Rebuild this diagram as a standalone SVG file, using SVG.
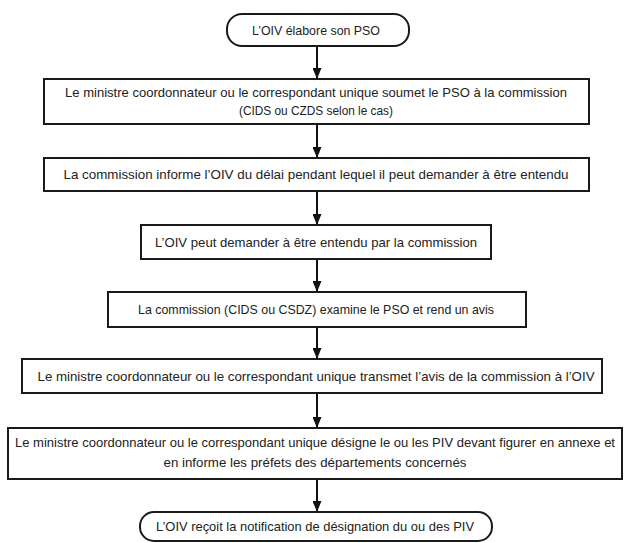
<svg xmlns="http://www.w3.org/2000/svg" width="624" height="543" viewBox="0 0 624 543">
<defs>
<marker id="arr" markerWidth="12" markerHeight="9" refX="11" refY="4.5" orient="auto" markerUnits="userSpaceOnUse">
<path d="M0,0 L11,4.5 L0,9 z" fill="#111"/>
</marker>
<style>
.box{fill:#fff;stroke:#1a1a1a;stroke-width:2}
.t{font-family:"Liberation Sans",Arial,sans-serif;font-size:12.8px;fill:#222;text-anchor:middle}
.c{stroke:#111;stroke-width:2;fill:none}
</style>
</defs>
<rect width="624" height="543" fill="#fff"/>
<g id="connectors">
<line class="c" x1="317" y1="46" x2="317" y2="79" marker-end="url(#arr)"/>
<line class="c" x1="317" y1="124" x2="317" y2="158" marker-end="url(#arr)"/>
<line class="c" x1="317" y1="191" x2="317" y2="225" marker-end="url(#arr)"/>
<line class="c" x1="317" y1="259" x2="317" y2="292" marker-end="url(#arr)"/>
<line class="c" x1="317" y1="327" x2="317" y2="359" marker-end="url(#arr)"/>
<line class="c" x1="317" y1="393" x2="317" y2="428" marker-end="url(#arr)"/>
<line class="c" x1="317" y1="479" x2="317" y2="512" marker-end="url(#arr)"/>
</g>
<g id="n1">
<rect class="box" x="227" y="14" width="182" height="32" rx="15"/>
<text class="t" x="316" y="35" textLength="128" lengthAdjust="spacingAndGlyphs">L’OIV élabore son PSO</text>
</g>
<g id="n2">
<rect class="box" x="44" y="79" width="545" height="45"/>
<text class="t" x="316" y="97" textLength="502" lengthAdjust="spacingAndGlyphs">Le ministre coordonnateur ou le correspondant unique soumet le PSO à la commission</text>
<text class="t" x="316" y="115" textLength="154" lengthAdjust="spacingAndGlyphs">(CIDS ou CZDS selon le cas)</text>
</g>
<g id="n3">
<rect class="box" x="44" y="158" width="545" height="33"/>
<text class="t" x="316" y="179" textLength="505" lengthAdjust="spacingAndGlyphs">La commission informe l’OIV  du délai pendant lequel il peut demander à être entendu</text>
</g>
<g id="n4">
<rect class="box" x="141" y="225" width="350" height="34"/>
<text class="t" x="316" y="247" textLength="322" lengthAdjust="spacingAndGlyphs">L’OIV peut demander à être entendu par la commission</text>
</g>
<g id="n5">
<rect class="box" x="108" y="292" width="418" height="35"/>
<text class="t" x="316" y="314" textLength="356" lengthAdjust="spacingAndGlyphs">La commission (CIDS ou CSDZ) examine le PSO et rend un avis</text>
</g>
<g id="n6">
<rect class="box" x="22" y="359" width="580" height="34"/>
<text class="t" x="316" y="381" textLength="557" lengthAdjust="spacingAndGlyphs">Le ministre coordonnateur ou le correspondant unique  transmet l’avis de la commission à l’OIV</text>
</g>
<g id="n7">
<rect class="box" x="8" y="428" width="614" height="51"/>
<text class="t" x="315" y="447" textLength="600" lengthAdjust="spacingAndGlyphs">Le ministre coordonnateur ou le correspondant unique désigne le ou les PIV devant figurer en annexe et</text>
<text class="t" x="315" y="467" textLength="303" lengthAdjust="spacingAndGlyphs">en informe les préfets des départements concernés</text>
</g>
<g id="n8">
<rect class="box" x="140" y="512" width="352" height="29" rx="14"/>
<text class="t" x="315" y="531" textLength="318" lengthAdjust="spacingAndGlyphs">L’OIV reçoit la notification de désignation du ou des PIV</text>
</g>
</svg>
